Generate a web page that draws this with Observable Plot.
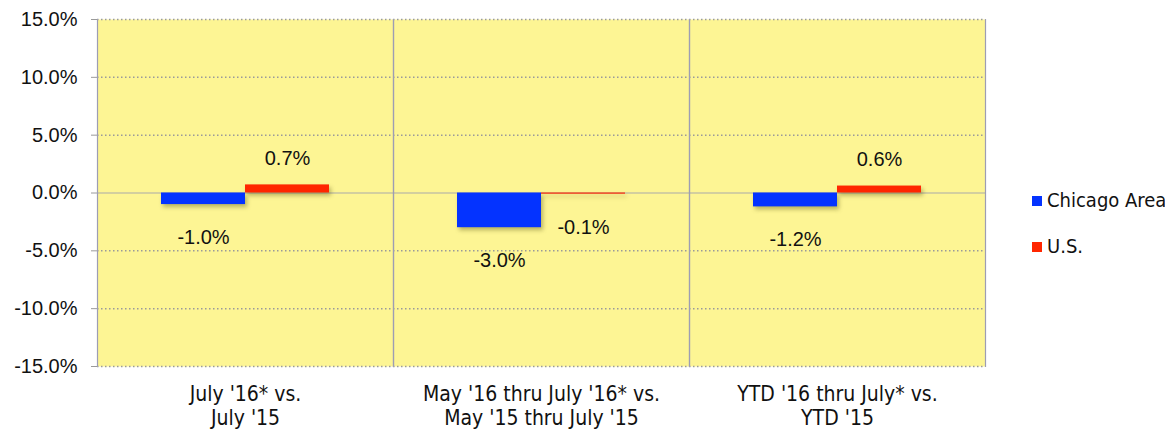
<!DOCTYPE html>
<html>
<head>
<meta charset="utf-8">
<script src="https://cdn.jsdelivr.net/npm/d3@7"></script>
<script src="https://cdn.jsdelivr.net/npm/@observablehq/plot@0.6"></script>
<style>
  html, body { margin: 0; padding: 0; background: #fff; }
  #wrap { position: relative; width: 1165px; height: 430px; overflow: hidden; }
  #chart { position: absolute; left: 0; top: 0; }
  g[aria-label="bar"] rect { filter: drop-shadow(2px 3px 2px rgba(60,60,0,0.35)); }
  g[aria-label="fx-axis tick label"] text { font-stretch: condensed; }
  .legend { position: absolute; left: 1032px; top: 186px; font-family: "DejaVu Sans Condensed", "DejaVu Sans", sans-serif; font-stretch: condensed; font-size: 20px; color: #111; white-space: nowrap; }
  .legend .item { display: flex; align-items: flex-end; height: 26px; margin-bottom: 20px; white-space: nowrap; }
  .legend .sw { flex: none; width: 10px; height: 10px; margin-right: 5px; margin-bottom: 6px; }
</style>
</head>
<body>
<div id="wrap">
  <div id="chart"></div>
  <div class="legend" id="legend"></div>
</div>
<script>
const categories = [
  "July '16* vs.\nJuly '15",
  "May '16 thru July '16* vs.\nMay '15 thru July '15",
  "YTD '16 thru July* vs.\nYTD '15"
];
const seriesNames = ["Chicago Area", "U.S."];
const chicagoValues = [-1.0, -3.0, -1.2];
const usValues = [0.7, -0.1, 0.6];
const yTicks = [-15, -10, -5, 0, 5, 10, 15];
const gridTicks = [-15, -10, -5, 5, 10, 15];
const colors = ["#0433FF", "#FF2600"];

const data = [];
categories.forEach((c, i) => {
  data.push({category: c, series: seriesNames[0], value: chicagoValues[i]});
  data.push({category: c, series: seriesNames[1], value: usValues[i]});
});

const yellow = "#FDF594";
const gridColor = "#9a9a9a";
const frameColor = "#9d9db4";
const fmt = d => d.toFixed(1) + "%";

const chart = Plot.plot({
  width: 1000,
  height: 430,
  marginTop: 19,
  marginBottom: 64,
  marginLeft: 97,
  marginRight: 15,
  style: {fontFamily: "'Liberation Sans', Arial, sans-serif", fontSize: "20px", color: "#111", background: "transparent"},
  fx: {domain: categories, padding: 0},
  x: {domain: seriesNames, paddingInner: 0, paddingOuter: 0.76, axis: null},
  y: {domain: [-15, 15]},
  color: {domain: seriesNames, range: colors},
  marks: [
    Plot.frame({fill: yellow, stroke: null}),
    Plot.ruleY(gridTicks, {stroke: gridColor, strokeWidth: 1.5, strokeDasharray: "1.5,2.5"}),
    Plot.ruleY([0], {stroke: "#aaaaaa", strokeWidth: 1.2}),
    Plot.frame({anchor: "left", stroke: frameColor, strokeWidth: 1.2}),
    Plot.frame({anchor: "right", stroke: frameColor, strokeWidth: 1.2}),
    Plot.barY(data, {fx: "category", x: "series", y1: 0, y2: "value", fill: "series", insetLeft: 0, insetRight: 0}),
    Plot.text(data.filter(d => d.value < 0), {fx: "category", x: "series", y: "value", text: d => fmt(d.value), dy: 33, fontSize: 20, fill: "#111"}),
    Plot.text(data.filter(d => d.value >= 0), {fx: "category", x: "series", y: "value", text: d => fmt(d.value), dy: -26, fontSize: 20, fill: "#111"}),
    Plot.axisY({ticks: yTicks, tickFormat: fmt, tickSize: 6, tickPadding: 14, stroke: gridColor, fontSize: 20, label: null}),
    Plot.axisFx({anchor: "bottom", tickSize: 0, tickPadding: 17, label: null, fontSize: 21, lineHeight: 1.15, fontFamily: "'DejaVu Sans Condensed', 'DejaVu Sans', sans-serif"})
  ]
});
document.getElementById("chart").appendChild(chart);

const legend = document.getElementById("legend");
seriesNames.forEach((s, i) => {
  const item = document.createElement("div");
  item.className = "item";
  const sw = document.createElement("span");
  sw.className = "sw";
  sw.style.background = colors[i];
  const t = document.createElement("span");
  t.textContent = s;
  item.appendChild(sw);
  item.appendChild(t);
  legend.appendChild(item);
});
</script>
</body>
</html>
